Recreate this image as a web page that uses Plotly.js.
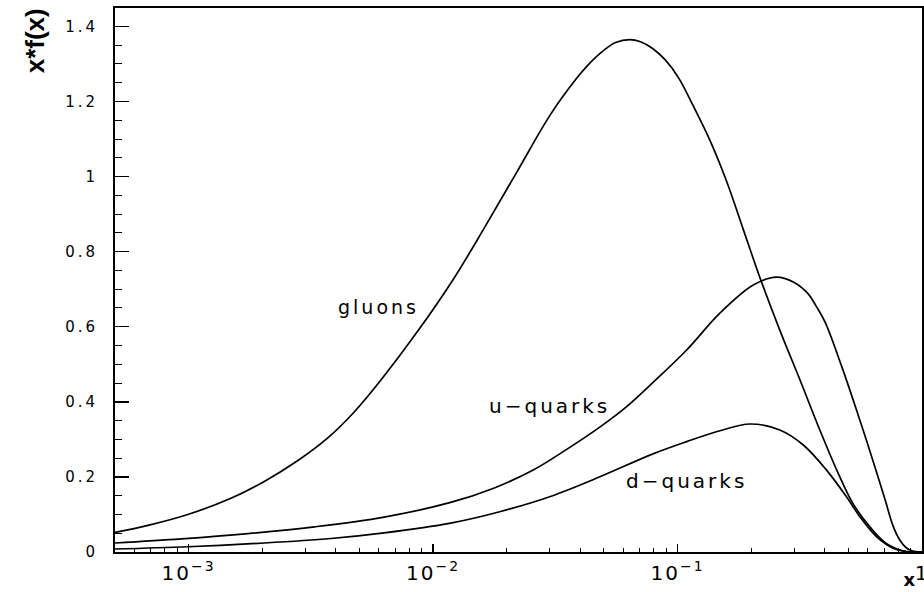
<!DOCTYPE html>
<html>
<head>
<meta charset="utf-8">
<script src="https://cdn.plot.ly/plotly-3.0.1.min.js"></script>
<style>
  html, body { margin: 0; padding: 0; background: #fff; }
  #chart { width: 924px; height: 592px; }
  /* wide, evenly spaced lettering for curve labels and tick numbers */
  .annotation-text { letter-spacing: 3px; }
  .annotation[data-index="3"] .annotation-text,
  .annotation[data-index="4"] .annotation-text { letter-spacing: 0; }
  .xtick text { letter-spacing: 2px; }
  .ytick text { letter-spacing: 3px; }
</style>
</head>
<body>
<div id="chart"></div>
<script>
// Momentum distributions x*f(x) versus x
const xGluons = [0.0005, 0.000682, 0.000993, 0.00149, 0.00204, 0.00279, 0.00371, 0.00476, 0.00612, 0.00863,
                 0.0122, 0.0161, 0.0221, 0.0302, 0.0388, 0.0433, 0.0499, 0.0558, 0.0637, 0.0706,
                 0.0791, 0.0893, 0.101, 0.116, 0.136, 0.159, 0.186, 0.2175, 0.262, 0.317,
                 0.382, 0.461, 0.522, 0.612, 0.714, 0.863, 1.0];
const yGluons = [0.052, 0.071, 0.100, 0.143, 0.188, 0.243, 0.304, 0.373, 0.458, 0.587,
                 0.730, 0.860, 1.014, 1.165, 1.263, 1.299, 1.336, 1.357, 1.365, 1.359,
                 1.341, 1.310, 1.263, 1.188, 1.095, 0.986, 0.858, 0.730, 0.591, 0.458,
                 0.325, 0.200, 0.129, 0.067, 0.023, 0.001, 0.0];

const xUQuarks = [0.0005, 0.000933, 0.00175, 0.00327, 0.00631, 0.0118, 0.0177, 0.0258, 0.0365, 0.0484,
                  0.0621, 0.0798, 0.109, 0.149, 0.204, 0.254, 0.2975, 0.343, 0.369, 0.401,
                  0.469, 0.548, 0.621, 0.705, 0.762, 0.811, 0.860, 0.910, 1.0];
const yUQuarks = [0.024, 0.035, 0.049, 0.067, 0.093, 0.132, 0.170, 0.219, 0.280, 0.334,
                  0.388, 0.453, 0.538, 0.636, 0.711, 0.732, 0.719, 0.687, 0.655, 0.613,
                  0.495, 0.365, 0.256, 0.141, 0.069, 0.032, 0.012, 0.003, 0.0];

const xDQuarks = [0.0005, 0.000993, 0.00204, 0.00382, 0.00631, 0.0118, 0.0189, 0.0302, 0.0484, 0.0798,
                  0.109, 0.149, 0.198, 0.262, 0.327, 0.407, 0.491, 0.557, 0.651, 0.762,
                  0.863, 1.0];
const yDQuarks = [0.008, 0.014, 0.024, 0.036, 0.051, 0.077, 0.108, 0.148, 0.201, 0.262,
                  0.294, 0.323, 0.341, 0.325, 0.285, 0.218, 0.147, 0.094, 0.041, 0.010,
                  0.001, 0.0];

const curveNames = ['gluons', 'u\u2212quarks', 'd\u2212quarks'];
const yTitle = 'x*f(x)';
const xTitle = 'x';

const curve = (x, y, name) => ({
  x: x, y: y, name: name, type: 'scatter', mode: 'lines',
  line: { color: '#000', width: 1.7, shape: 'spline', smoothing: 1 },
  hoverinfo: 'skip'
});

const data = [
  curve(xGluons, yGluons, curveNames[0]),
  curve(xUQuarks, yUQuarks, curveNames[1]),
  curve(xDQuarks, yDQuarks, curveNames[2])
];

const labelFont = { family: 'DejaVu Sans, Verdana, sans-serif', color: '#000' };

const layout = {
  width: 924, height: 592,
  margin: { l: 115, r: 2, t: 8, b: 40, pad: 0 },
  paper_bgcolor: '#fff', plot_bgcolor: '#fff',
  showlegend: false,
  font: labelFont,
  xaxis: {
    type: 'log', range: [Math.log10(5e-4), 0],
    dtick: 1, tick0: 0, exponentformat: 'power', showexponent: 'all',
    ticks: 'inside', ticklen: 8, tickwidth: 1.5, tickcolor: '#000',
    minor: { ticks: 'inside', dtick: 'D1', ticklen: 4, tickwidth: 1, tickcolor: '#000', showgrid: false },
    showline: true, linecolor: '#000', linewidth: 1.6, mirror: true,
    showgrid: false, zeroline: false, ticklabeloverflow: 'allow',
    tickfont: { size: 16 }, ticklabelstandoff: 3
  },
  yaxis: {
    range: [0, 1.449], dtick: 0.2, tick0: 0,
    ticks: 'inside', ticklen: 14, tickwidth: 1.5, tickcolor: '#000',
    minor: { ticks: 'inside', dtick: 0.05, ticklen: 7, tickwidth: 1, tickcolor: '#000', showgrid: false },
    showline: true, linecolor: '#000', linewidth: 2, mirror: true,
    showgrid: false, zeroline: false,
    tickfont: { size: 15 }, ticklabelstandoff: 12
  },
  annotations: [
    { text: curveNames[0], xref: 'paper', yref: 'paper', x: 0.327, y: 0.450,
      xanchor: 'center', yanchor: 'middle', showarrow: false, font: { size: 19 } },
    { text: curveNames[1], xref: 'paper', yref: 'paper', x: 0.539, y: 0.268,
      xanchor: 'center', yanchor: 'middle', showarrow: false, font: { size: 20 } },
    { text: curveNames[2], xref: 'paper', yref: 'paper', x: 0.708, y: 0.131,
      xanchor: 'center', yanchor: 'middle', showarrow: false, font: { size: 20 } },
    { text: yTitle, xref: 'paper', yref: 'paper', x: -0.099, y: 0.939, textangle: -90,
      xanchor: 'center', yanchor: 'middle', showarrow: false,
      font: { size: 26, weight: 'bold', family: 'Liberation Sans, Arial, sans-serif' } },
    { text: xTitle, xref: 'paper', yref: 'paper', x: 0.9845, y: -0.0735,
      xanchor: 'center', yanchor: 'bottom', showarrow: false, font: { size: 18, weight: 'bold' } }
  ]
};

Plotly.newPlot('chart', data, layout, { displayModeBar: false, staticPlot: true });
</script>
</body>
</html>
